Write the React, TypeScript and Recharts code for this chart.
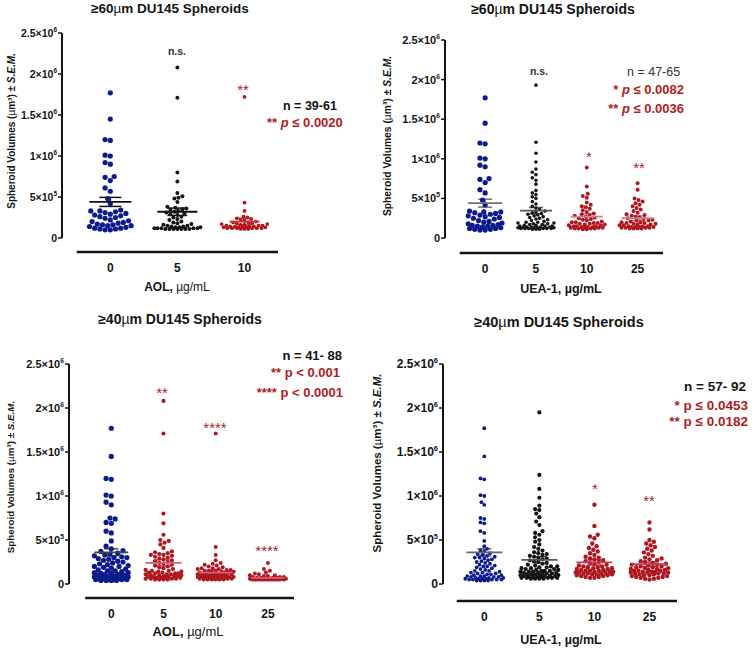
import React from "react";
import { ScatterChart, Scatter, XAxis, YAxis, ErrorBar, ReferenceLine } from "recharts";

const FONT = '"Liberation Sans", Arial, sans-serif';
const NAVY = "#0c1b8c";
const BLACK = "#141414";
const RED = "#b0161d";
const TXT_RED = "#b01c22";

// y ticks, µm³
const yTicks = [0, 5e5, 1e6, 1.5e6, 2e6, 2.5e6];
const yTickBase = ["0", "5×10", "1×10", "1.5×10", "2×10", "2.5×10"];
const yTickExp = ["", "5", "6", "6", "6", "6"];

const cats3 = ["0", "5", "10"];
const cats4 = ["0", "5", "10", "25"];

// spheroid volumes, ×10⁵ µm³
const ctrl60 = [17.7, 14.5, 12.0, 11.9, 10.1, 10.0, 9.2, 9.0, 7.5, 7.4, 7.0, 6.1, 5.7, 4.8, 4.2, 3.4, 3.3, 3.3, 3.2, 3.1, 3.0, 2.9, 2.8, 2.7, 2.6, 2.5, 2.4, 2.2, 2.1, 2.0, 1.9, 1.8, 1.7, 1.6, 1.6, 1.5, 1.5, 1.4, 1.3, 1.2, 1.2, 1.1, 1.1, 1.0, 1.0];
const aol5_60 = [20.8, 17.1, 8.0, 6.9, 5.5, 5.1, 4.9, 4.8, 4.4, 3.8, 3.7, 3.6, 3.5, 3.4, 3.3, 3.2, 3.1, 3.0, 2.9, 2.8, 2.6, 2.5, 2.3, 2.2, 2.0, 1.9, 1.8, 1.7, 1.6, 1.5, 1.5, 1.4, 1.4, 1.3, 1.3, 1.3, 1.2, 1.2, 1.2, 1.2, 1.2, 1.1, 1.1, 1.1, 1.1, 1.1, 1.1, 1.1];
const aol10_60 = [17.2, 4.3, 3.3, 2.6, 2.5, 2.4, 2.3, 2.2, 2.1, 2.0, 1.9, 1.9, 1.8, 1.8, 1.7, 1.7, 1.6, 1.6, 1.5, 1.5, 1.5, 1.4, 1.4, 1.4, 1.4, 1.3, 1.3, 1.3, 1.3, 1.3, 1.2, 1.2, 1.2, 1.2, 1.2, 1.2, 1.1, 1.1, 1.1];
const uea5_60 = [19.3, 12.1, 10.7, 9.6, 8.7, 8.3, 8.0, 7.6, 7.3, 6.8, 6.0, 5.7, 5.5, 5.2, 5.0, 4.6, 4.3, 4.0, 3.8, 3.6, 3.4, 3.3, 3.2, 3.1, 3.0, 2.9, 2.8, 2.7, 2.6, 2.5, 2.4, 2.3, 2.2, 2.1, 2.0, 2.0, 1.9, 1.9, 1.8, 1.8, 1.7, 1.7, 1.6, 1.6, 1.5, 1.5, 1.5, 1.4, 1.4, 1.4, 1.4, 1.3, 1.3, 1.3, 1.3, 1.3, 1.2, 1.2, 1.2, 1.2, 1.2, 1.2, 1.1, 1.1, 1.1];
const uea10_60 = [8.9, 6.5, 5.6, 5.3, 5.1, 4.5, 4.2, 4.0, 3.9, 3.7, 3.5, 3.3, 3.1, 3.0, 2.9, 2.8, 2.7, 2.6, 2.5, 2.4, 2.3, 2.2, 2.1, 2.0, 2.0, 1.9, 1.9, 1.8, 1.8, 1.7, 1.7, 1.6, 1.6, 1.5, 1.5, 1.5, 1.4, 1.4, 1.4, 1.3, 1.3, 1.3, 1.3, 1.2, 1.2, 1.2, 1.2, 1.1, 1.1];
const uea25_60 = [6.9, 6.1, 5.0, 4.8, 4.6, 4.4, 4.2, 4.0, 3.8, 3.6, 3.4, 3.2, 3.0, 2.9, 2.8, 2.7, 2.6, 2.5, 2.4, 2.3, 2.2, 2.2, 2.1, 2.0, 2.0, 1.9, 1.9, 1.8, 1.8, 1.7, 1.7, 1.6, 1.6, 1.5, 1.5, 1.5, 1.4, 1.4, 1.4, 1.4, 1.3, 1.3, 1.3, 1.3, 1.2, 1.2, 1.2, 1.2];

const ctrl40 = [17.7, 14.5, 12.0, 11.9, 10.1, 10.0, 9.3, 9.0, 7.5, 7.4, 7.0, 6.9, 6.0, 5.8, 4.9, 4.3, 4.0, 3.8, 3.7, 3.5, 3.4, 3.3, 3.2, 3.1, 3.0, 3.0, 2.9, 2.8, 2.7, 2.6, 2.5, 2.4, 2.3, 2.2, 2.1, 2.0, 2.0, 1.9, 1.8, 1.7, 1.6, 1.5, 1.5, 1.4, 1.3, 1.3, 1.2, 1.2, 1.1, 1.1, 1.0, 1.0, 0.9, 0.9, 0.9, 0.8, 0.8, 0.8, 0.7, 0.7, 0.7, 0.6, 0.6, 0.6, 0.6, 0.5, 0.5, 0.5, 0.5, 0.5, 0.4, 0.4, 0.4, 0.4];
const aol5_40 = [20.8, 17.1, 8.0, 6.9, 5.6, 5.0, 4.9, 4.7, 4.5, 4.1, 3.7, 3.6, 3.5, 3.4, 3.3, 3.3, 3.2, 3.1, 3.0, 2.9, 2.8, 2.7, 2.6, 2.5, 2.4, 2.3, 2.2, 2.1, 2.0, 1.9, 1.8, 1.7, 1.6, 1.5, 1.5, 1.4, 1.4, 1.3, 1.3, 1.2, 1.2, 1.2, 1.1, 1.1, 1.1, 1.0, 1.0, 1.0, 0.9, 0.9, 0.9, 0.8, 0.8, 0.8, 0.7, 0.7, 0.7, 0.7, 0.6, 0.6, 0.6, 0.6, 0.5, 0.5, 0.5, 0.5];
const aol10_40 = [17.1, 4.2, 3.3, 2.7, 2.4, 2.3, 2.2, 2.1, 2.0, 1.9, 1.8, 1.8, 1.7, 1.7, 1.6, 1.6, 1.5, 1.5, 1.5, 1.4, 1.4, 1.4, 1.3, 1.3, 1.3, 1.2, 1.2, 1.2, 1.2, 1.1, 1.1, 1.1, 1.1, 1.0, 1.0, 1.0, 1.0, 0.9, 0.9, 0.9, 0.9, 0.8, 0.8, 0.8, 0.8, 0.7, 0.7, 0.7, 0.7, 0.6, 0.6, 0.6, 0.6, 0.6, 0.5, 0.5, 0.5, 0.5, 0.5, 0.5];
const aol25_40 = [2.4, 1.7, 1.5, 1.3, 1.2, 1.1, 1.0, 1.0, 0.9, 0.9, 0.8, 0.8, 0.8, 0.7, 0.7, 0.7, 0.7, 0.6, 0.6, 0.6, 0.6, 0.6, 0.6, 0.6, 0.6, 0.5, 0.5, 0.5, 0.5, 0.5, 0.5, 0.5, 0.5, 0.5, 0.5, 0.5, 0.5, 0.5, 0.5, 0.5, 0.5];
const uea5_40 = [19.5, 12.4, 10.8, 9.8, 8.9, 8.5, 8.4, 8.0, 7.6, 7.1, 6.7, 6.0, 5.8, 5.6, 5.3, 5.0, 4.8, 4.5, 4.2, 4.0, 3.8, 3.6, 3.5, 3.4, 3.3, 3.2, 3.1, 3.0, 2.9, 2.8, 2.7, 2.6, 2.5, 2.4, 2.3, 2.2, 2.1, 2.0, 2.0, 1.9, 1.9, 1.8, 1.8, 1.7, 1.7, 1.6, 1.6, 1.5, 1.5, 1.5, 1.4, 1.4, 1.4, 1.3, 1.3, 1.3, 1.2, 1.2, 1.2, 1.1, 1.1, 1.1, 1.0, 1.0, 1.0, 0.9, 0.9, 0.9, 0.9, 0.8, 0.8, 0.8, 0.8, 0.7, 0.7, 0.7, 0.7, 0.7, 0.6, 0.6, 0.6, 0.6];
const uea10_40 = [9.0, 6.6, 5.6, 5.4, 5.2, 4.6, 4.3, 4.1, 3.9, 3.7, 3.5, 3.3, 3.1, 3.0, 2.9, 2.8, 2.7, 2.6, 2.5, 2.4, 2.3, 2.2, 2.1, 2.0, 2.0, 1.9, 1.9, 1.8, 1.8, 1.7, 1.7, 1.6, 1.6, 1.5, 1.5, 1.5, 1.4, 1.4, 1.4, 1.3, 1.3, 1.3, 1.2, 1.2, 1.2, 1.1, 1.1, 1.1, 1.0, 1.0, 0.9, 0.9, 0.8, 0.8, 0.7, 0.7];
const uea25_40 = [7.0, 6.2, 5.0, 4.8, 4.6, 4.4, 4.2, 4.0, 3.8, 3.6, 3.4, 3.2, 3.0, 2.9, 2.8, 2.7, 2.6, 2.5, 2.4, 2.3, 2.2, 2.2, 2.1, 2.0, 2.0, 1.9, 1.9, 1.8, 1.8, 1.7, 1.7, 1.6, 1.6, 1.5, 1.5, 1.5, 1.4, 1.4, 1.4, 1.3, 1.3, 1.3, 1.2, 1.2, 1.2, 1.1, 1.1, 1.0, 1.0, 0.9, 0.9, 0.8, 0.8, 0.7, 0.7, 0.6, 0.6, 0.5];

// mean ± SEM, ×10⁵ µm³
const meanA60 = [4.4, 3.2, 2.0];
const semA60 = [0.55, 0.45, 0.4];
const meanU60 = [4.4, 3.45, 2.7, 2.5];
const semU60 = [0.5, 0.4, 0.35, 0.3];
const meanA40 = [3.6, 2.4, 1.3, 0.7];
const semA40 = [0.4, 0.35, 0.3, 0.08];
const meanU40 = [3.6, 2.75, 2.45, 2.25];
const semU40 = [0.4, 0.35, 0.3, 0.25];

const Y_MAX = 2.5e6;
const XH = 25;
const YW = 45;

type Group = { vals: number[]; color: string; r: number; lineColor: string; hw: number; cap: number };
type PanelCfg = {
  box: number[];
  plot: number[];
  xMin: number;
  yMin: number;
  cats: string[];
  groups: Group[];
  means: number[];
  sems: number[];
  spread: number;
  tickFont: number;
};

// beeswarm offsets in px, lowest values placed first
function swarm(vals: number[], r: number, pxY: number, maxW: number) {
  const order = vals.map((_, i) => i).sort((a, b) => vals[a] - vals[b]);
  const placed: number[][] = [];
  const out = new Array(vals.length).fill(0);
  const d2 = 4 * r * r;
  const step = r * 0.5;
  for (const i of order) {
    const y = vals[i] * pxY;
    let best = 0;
    let bestGap = -1;
    for (let k = 0; ; k++) {
      const off = (k % 2 ? -1 : 1) * Math.ceil(k / 2) * step;
      if (Math.abs(off) > maxW) break;
      let gap = Infinity;
      for (const p of placed) {
        const g = (p[0] - off) ** 2 + (p[1] - y) ** 2;
        if (g < gap) gap = g;
      }
      if (gap >= d2) {
        best = off;
        break;
      }
      if (gap > bestGap) {
        bestGap = gap;
        best = off;
      }
    }
    placed.push([best, y]);
    out[i] = best;
  }
  return out;
}

function Panel({ box, plot, xMin, yMin, cats, groups, means, sems, spread, tickFont }: PanelCfg) {
  const [bx, by, bw, bh] = box;
  const [L, T, R, B] = plot;
  const xMax = cats.length - 0.5;
  const pxX = (R - L) / (xMax - xMin);
  const pxY = ((B - T) / (Y_MAX - yMin)) * 1e5;

  const YTick = (p: any) => {
    const i = yTicks.indexOf(p.payload.value);
    return (
      <text x={p.x} y={p.y} dy={tickFont * 0.36} textAnchor="end" fontSize={tickFont} fontWeight="bold" fontFamily={FONT} fill={BLACK}>
        {yTickBase[i]}
        {yTickExp[i] && (
          <tspan fontSize={tickFont * 0.62} dy={-tickFont * 0.45}>
            {yTickExp[i]}
          </tspan>
        )}
      </text>
    );
  };
  const XTick = (p: any) => (
    <text x={p.x} y={p.y + 20} textAnchor="middle" fontSize={12} fontWeight="bold" fontFamily={FONT} fill={BLACK}>
      {cats[p.payload.value]}
    </text>
  );

  return (
    <div style={{ position: "absolute", left: bx, top: by }}>
      <ScatterChart
        width={bw}
        height={bh}
        margin={{ top: T - by, left: L - bx - YW, right: bx + bw - R, bottom: by + bh - B - XH }}
      >
        <XAxis
          type="number"
          dataKey="x"
          domain={[xMin, xMax]}
          ticks={cats.map((_, i) => i)}
          interval={0}
          allowDataOverflow
          axisLine={false}
          tickLine={false}
          tickSize={0}
          tickMargin={0}
          height={XH}
          tick={XTick}
        />
        <YAxis
          type="number"
          dataKey="y"
          domain={[yMin, Y_MAX]}
          ticks={yTicks}
          interval={0}
          allowDataOverflow
          axisLine={false}
          tickLine={{ stroke: BLACK, strokeWidth: 1.5 }}
          tickSize={4}
          tickMargin={1}
          width={YW}
          tick={YTick}
        />
        <ReferenceLine
          segment={[{ x: xMin, y: 0 }, { x: xMin, y: Y_MAX }]}
          stroke={BLACK}
          strokeWidth={2}
          ifOverflow="visible"
        />
        <ReferenceLine
          segment={[{ x: -0.5, y: yMin }, { x: xMax, y: yMin }]}
          stroke={BLACK}
          strokeWidth={2.4}
          ifOverflow="visible"
        />
        {groups.map((g, gi) => {
          const offs = swarm(g.vals, g.r, pxY, spread);
          const pts = g.vals.map((v, i) => ({ x: gi + offs[i] / pxX, y: v * 1e5 }));
          return (
            <Scatter
              key={"d" + gi}
              data={pts}
              isAnimationActive={false}
              shape={(p: any) => <circle cx={p.cx} cy={p.cy} r={g.r} fill={g.color} />}
            />
          );
        })}
        {groups.map((g, gi) => (
          <Scatter
            key={"m" + gi}
            data={[{ x: gi, y: means[gi] * 1e5, err: sems[gi] * 1e5 }]}
            isAnimationActive={false}
            shape={(p: any) => (
              <line x1={p.cx - g.hw} x2={p.cx + g.hw} y1={p.cy} y2={p.cy} stroke={g.lineColor} strokeWidth={1.8} />
            )}
          >
            <ErrorBar dataKey="err" direction="y" width={g.cap} stroke={g.lineColor} strokeWidth={1.5} isAnimationActive={false} />
          </Scatter>
        ))}
      </ScatterChart>
    </div>
  );
}

const panels: PanelCfg[] = [
  {
    box: [0, 0, 376, 300],
    plot: [62, 33, 278, 252],
    xMin: -0.72,
    yMin: -0.171e6,
    cats: cats3,
    groups: [
      { vals: ctrl60, color: NAVY, r: 2.6, lineColor: "#111", hw: 21, cap: 11 },
      { vals: aol5_60, color: BLACK, r: 2.0, lineColor: "#111", hw: 20, cap: 10 },
      { vals: aol10_60, color: RED, r: 1.9, lineColor: "#c8383c", hw: 15, cap: 8 },
    ],
    means: meanA60,
    sems: semA60,
    spread: 23,
    tickFont: 10.5,
  },
  {
    box: [376, 0, 376, 300],
    plot: [445, 40, 663, 253],
    xMin: -0.79,
    yMin: -0.189e6,
    cats: cats4,
    groups: [
      { vals: ctrl60, color: NAVY, r: 2.6, lineColor: "#707070", hw: 17, cap: 7 },
      { vals: uea5_60, color: BLACK, r: 1.8, lineColor: "#555", hw: 16, cap: 7 },
      { vals: uea10_60, color: RED, r: 2.0, lineColor: "#cf7d93", hw: 16, cap: 7 },
      { vals: uea25_60, color: RED, r: 2.0, lineColor: "#cf7d93", hw: 16, cap: 7 },
    ],
    means: meanU60,
    sems: semU60,
    spread: 18,
    tickFont: 11,
  },
  {
    box: [0, 300, 376, 349],
    plot: [69, 364, 294, 598],
    xMin: -0.81,
    yMin: -0.159e6,
    cats: cats4,
    groups: [
      { vals: ctrl40, color: NAVY, r: 2.6, lineColor: "#444", hw: 17, cap: 7 },
      { vals: aol5_40, color: RED, r: 2.1, lineColor: "#d0607a", hw: 18, cap: 7 },
      { vals: aol10_40, color: RED, r: 2.0, lineColor: "#d0607a", hw: 17, cap: 7 },
      { vals: aol25_40, color: RED, r: 2.0, lineColor: "#d0607a", hw: 17, cap: 7 },
    ],
    means: meanA40,
    sems: semA40,
    spread: 18,
    tickFont: 11,
  },
  {
    box: [376, 300, 376, 349],
    plot: [443, 364, 677, 601],
    xMin: -0.75,
    yMin: -0.193e6,
    cats: cats4,
    groups: [
      { vals: ctrl40, color: NAVY, r: 1.9, lineColor: "#666", hw: 18, cap: 7 },
      { vals: uea5_40, color: BLACK, r: 2.1, lineColor: "#555", hw: 18, cap: 7 },
      { vals: uea10_40, color: RED, r: 2.2, lineColor: "#b8405e", hw: 18, cap: 7 },
      { vals: uea25_40, color: RED, r: 2.2, lineColor: "#b8405e", hw: 18, cap: 7 },
    ],
    means: meanU40,
    sems: semU40,
    spread: 19,
    tickFont: 12,
  },
];

function Title({ x, y, size, d }: { x: number; y: number; size: number; d: string }) {
  return (
    <text x={x} y={y} textAnchor="middle" fontSize={size} fontWeight="bold" fill={BLACK}>
      {"≥" + d}
      <tspan fontWeight="normal">µ</tspan>m DU145 Spheroids
    </text>
  );
}

function YLabel({ x, y, size }: { x: number; y: number; size: number }) {
  return (
    <text transform={`translate(${x},${y}) rotate(-90)`} dy="0.35em" textAnchor="middle" fontSize={size} fontWeight="bold" fill={BLACK}>
      Spheroid Volumes (<tspan fontWeight="normal">µ</tspan>m³) ± <tspan fontStyle="italic">S.E.M.</tspan>
    </text>
  );
}

function Stars({ x, y, s, size = 15 }: { x: number; y: number; s: string; size?: number }) {
  return (
    <text x={x} y={y} textAnchor="middle" fontSize={size} fill={TXT_RED}>
      {s}
    </text>
  );
}

export default function App() {
  return (
    <div style={{ position: "relative", width: 752, height: 649, background: "#fff", fontFamily: FONT }}>
      <style>{"body{margin:0}"}</style>
      {panels.map((p, i) => (
        <Panel key={i} {...p} />
      ))}
      <svg width={752} height={649} style={{ position: "absolute", left: 0, top: 0, pointerEvents: "none" }} fontFamily={FONT}>
        <Title x={170} y={13} size={13.5} d="60" />
        <Title x={553} y={14} size={14} d="60" />
        <Title x={180} y={324} size={14} d="40" />
        <Title x={559} y={327} size={14.5} d="40" />

        <YLabel x={11} y={131} size={10} />
        <YLabel x={387} y={136} size={10.3} />
        <YLabel x={11} y={477} size={9.8} />
        <YLabel x={377} y={463} size={11.5} />

        <text x={177} y={291} textAnchor="middle" fontSize={12} fill={BLACK}>
          <tspan fontWeight="bold">AOL,</tspan> µg/mL
        </text>
        <text x={561} y={293} textAnchor="middle" fontSize={12.5} fontWeight="bold" fill={BLACK}>
          UEA-1, µg/mL
        </text>
        <text x={188} y={636} textAnchor="middle" fontSize={13} fill={BLACK}>
          <tspan fontWeight="bold">AOL,</tspan> µg/mL
        </text>
        <text x={561} y={644} textAnchor="middle" fontSize={12.5} fontWeight="bold" fill={BLACK}>
          UEA-1, µg/mL
        </text>

        {/* top-left annotations */}
        <text x={177} y={55} textAnchor="middle" fontSize={10.5} fontWeight="bold" fill="#333">n.s.</text>
        <Stars x={243} y={94.5} s="**" />
        <text x={283} y={109.5} fontSize={12.5} fontWeight="bold" fill={BLACK}>n = 39-61</text>
        <text x={267} y={126.5} fontSize={13} fontWeight="bold" fill={TXT_RED}>
          ** <tspan fontStyle="italic">p</tspan> ≤ 0.0020
        </text>

        {/* top-right annotations */}
        <text x={539} y={75} textAnchor="middle" fontSize={10.5} fontWeight="bold" fill="#333">n.s.</text>
        <Stars x={589} y={161.5} s="*" />
        <Stars x={639} y={172.5} s="**" />
        <text x={627} y={75.5} fontSize={12.5} fill="#333">n = 47-65</text>
        <text x={684} y={93.5} textAnchor="end" fontSize={13} fontWeight="bold" fill={TXT_RED}>
          * <tspan fontStyle="italic">p</tspan> ≤ 0.0082
        </text>
        <text x={684} y={112.5} textAnchor="end" fontSize={13} fontWeight="bold" fill={TXT_RED}>
          ** <tspan fontStyle="italic">p</tspan> ≤ 0.0036
        </text>

        {/* bottom-left annotations */}
        <Stars x={162} y={397.5} s="**" />
        <Stars x={215} y={432.5} s="****" />
        <Stars x={267} y={555.5} s="****" />
        <text x={342} y={359.5} textAnchor="end" fontSize={13} fontWeight="bold" fill={BLACK}>n = 41- 88</text>
        <text x={340} y={376.5} textAnchor="end" fontSize={13} fontWeight="bold" fill={TXT_RED}>** p &lt; 0.001</text>
        <text x={343} y={396.5} textAnchor="end" fontSize={13} fontWeight="bold" fill={TXT_RED}>**** p &lt; 0.0001</text>

        {/* bottom-right annotations */}
        <Stars x={595} y={493.5} s="*" />
        <Stars x={649} y={505.5} s="**" />
        <text x={746} y={390.5} textAnchor="end" fontSize={13.5} fontWeight="bold" fill={BLACK}>n = 57- 92</text>
        <text x={748} y={409.5} textAnchor="end" fontSize={13.5} fontWeight="bold" fill={TXT_RED}>* p ≤ 0.0453</text>
        <text x={748} y={425.5} textAnchor="end" fontSize={13.5} fontWeight="bold" fill={TXT_RED}>** p ≤ 0.0182</text>
      </svg>
    </div>
  );
}
